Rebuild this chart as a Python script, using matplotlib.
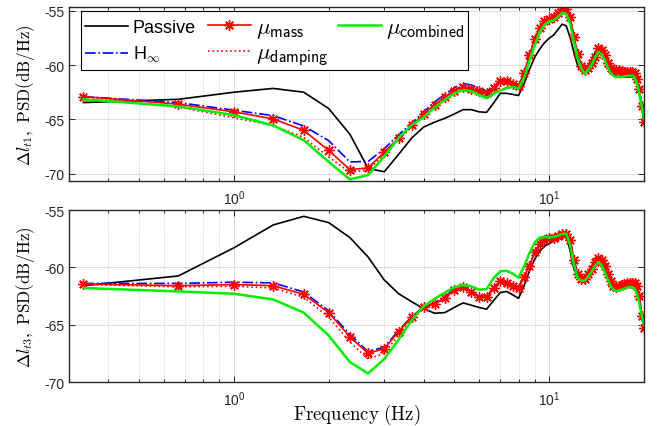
import matplotlib
matplotlib.use('Agg')
import matplotlib.pyplot as plt
from matplotlib.ticker import NullFormatter, FixedLocator, LogLocator
from matplotlib.patches import Rectangle
from matplotlib.legend import Legend
import numpy as np

plt.rcParams['font.family'] = ['Liberation Sans', 'DejaVu Sans']
plt.rcParams['mathtext.fontset'] = 'cm'
plt.rcParams['axes.unicode_minus'] = False

# frequency grid (Hz), 1/3 Hz resolution
freq = np.arange(1, 61) / 3.0

# ---- upper panel: delta l_t1 ----
top_passive = [-63.45, -63.15, -62.5, -62.15, -62.5, -64.0, -66.35, -69.5, -69.8, -68.2,
               -66.7, -65.7, -65.25, -64.9, -64.5, -64.1, -64.1, -64.3, -64.35, -63.5,
               -62.6, -62.6, -62.7, -62.8, -61.7, -60.4, -59.3, -58.55, -57.95, -57.55,
               -57.25, -56.75, -56.25, -56.4, -57.5, -58.9, -60.1, -60.6, -60.5, -60.05,
               -59.5, -58.85, -58.3, -58.45, -59.0, -59.8, -60.45, -60.8, -61.0, -61.1,
               -61.1, -61.1, -61.1, -61.1, -61.05, -61.1, -61.8, -62.7, -63.7, -64.6]
top_hinf = [-62.9, -63.45, -64.15, -64.65, -65.6, -66.95, -68.9, -68.85, -67.7, -66.4,
            -65.35, -64.3, -63.4, -62.7, -62.1, -61.7, -61.85, -62.1, -62.4, -62.0,
            -61.45, -61.4, -61.65, -61.9, -60.65, -59.05, -57.55, -56.6, -56.0, -55.75,
            -55.55, -55.25, -54.9, -54.9, -55.6, -57.45, -59.0, -60.05, -60.5, -60.25,
            -59.85, -59.3, -58.45, -58.65, -59.1, -59.85, -60.3, -60.5, -60.5, -60.5,
            -60.55, -60.6, -60.6, -60.6, -60.65, -60.75, -61.3, -62.2, -63.8, -65.25]
top_mass = [-62.9, -63.6, -64.3, -64.95, -66.0, -67.85, -69.6, -69.45, -68.0, -66.7,
            -65.55, -64.5, -63.65, -62.95, -62.35, -62.05, -62.2, -62.35, -62.55, -62.1,
            -61.5, -61.45, -61.7, -61.95, -60.7, -59.1, -57.6, -56.6, -56.0, -55.75,
            -55.55, -55.25, -54.85, -54.85, -55.6, -57.45, -59.0, -60.05, -60.5, -60.25,
            -59.85, -59.3, -58.4, -58.6, -59.1, -59.85, -60.3, -60.5, -60.5, -60.5,
            -60.55, -60.6, -60.6, -60.6, -60.65, -60.75, -61.3, -62.2, -63.8, -65.25]
top_damping = [-62.95, -63.85, -64.85, -65.55, -66.65, -68.45, -69.85, -69.65, -68.2, -66.85,
               -65.7, -64.6, -63.75, -63.05, -62.45, -62.15, -62.3, -62.45, -62.65, -62.2,
               -61.6, -61.55, -61.8, -62.0, -60.75, -59.15, -57.65, -56.65, -56.05, -55.8,
               -55.6, -55.3, -54.9, -54.9, -55.65, -57.5, -59.05, -60.1, -60.55, -60.3,
               -59.9, -59.35, -58.45, -58.65, -59.15, -59.9, -60.35, -60.55, -60.55, -60.55,
               -60.6, -60.65, -60.65, -60.65, -60.7, -60.8, -61.35, -62.25, -63.85, -65.25]
top_combined = [-63.15, -63.8, -64.6, -65.55, -66.9, -68.9, -70.5, -70.1, -68.4, -66.7,
                -65.5, -64.8, -63.9, -63.2, -62.6, -62.3, -62.4, -62.75, -63.05, -62.65,
                -62.35, -62.1, -62.0, -62.15, -61.2, -59.6, -58.2, -57.0, -56.3, -56.0,
                -55.9, -55.6, -55.2, -55.3, -56.2, -57.9, -59.4, -60.35, -60.8, -60.4,
                -59.95, -59.3, -58.8, -59.0, -59.5, -60.2, -60.7, -61.0, -61.1, -61.1,
                -61.1, -61.05, -61.0, -61.0, -60.95, -61.1, -61.7, -62.6, -63.8, -64.9]

# ---- lower panel: delta l_t3 ----
bot_passive = [-61.6, -60.75, -58.3, -56.3, -55.55, -56.1, -57.4, -59.1, -61.1, -62.3,
               -63.0, -63.6, -64.0, -63.95, -63.5, -63.1, -63.3, -63.5, -63.65, -62.9,
               -62.2, -62.1, -62.4, -62.7, -61.6, -60.3, -59.3, -58.6, -58.15, -57.95,
               -57.7, -57.5, -57.3, -57.15, -58.6, -60.2, -60.85, -61.0, -60.9, -60.4,
               -59.85, -59.4, -59.15, -59.4, -59.95, -60.7, -61.25, -61.6, -61.75, -61.72,
               -61.68, -61.65, -61.6, -61.5, -61.46, -61.55, -61.8, -62.9, -64.2, -65.25]
bot_hinf = [-61.4, -61.4, -61.3, -61.35, -62.15, -63.8, -65.85, -67.35, -66.95, -65.5,
            -64.3, -63.45, -63.1, -62.55, -61.9, -61.7, -62.1, -62.55, -62.5, -61.75,
            -61.15, -61.3, -61.55, -61.75, -60.75, -59.8, -58.65, -57.95, -57.55, -57.4,
            -57.35, -57.2, -57.0, -56.95, -57.55, -59.35, -60.55, -61.0, -61.0, -60.5,
            -60.05, -59.45, -59.1, -59.35, -59.85, -60.55, -61.15, -61.55, -61.7, -61.6,
            -61.5, -61.4, -61.35, -61.3, -61.3, -61.35, -61.55, -62.45, -64.15, -65.3]
bot_mass = [-61.45, -61.6, -61.5, -61.6, -62.35, -63.95, -66.05, -67.5, -67.1, -65.6,
            -64.35, -63.5, -63.2, -62.65, -61.95, -61.75, -62.15, -62.6, -62.55, -61.8,
            -61.2, -61.35, -61.6, -61.8, -60.8, -59.85, -58.7, -58.0, -57.6, -57.45,
            -57.4, -57.25, -57.05, -57.05, -57.6, -59.4, -60.6, -61.05, -61.05, -60.55,
            -60.1, -59.5, -59.15, -59.4, -59.9, -60.6, -61.2, -61.6, -61.75, -61.65,
            -61.55, -61.45, -61.4, -61.35, -61.35, -61.4, -61.6, -62.5, -64.2, -65.3]
bot_damping = [-61.5, -61.7, -61.65, -61.8, -62.6, -64.35, -66.5, -68.0, -67.5, -65.9,
               -64.55, -63.6, -63.3, -62.7, -62.0, -61.8, -62.2, -62.65, -62.6, -61.85,
               -61.25, -61.4, -61.65, -61.85, -60.85, -59.9, -58.75, -58.05, -57.65, -57.5,
               -57.45, -57.3, -57.1, -57.1, -57.65, -59.45, -60.65, -61.1, -61.1, -60.6,
               -60.15, -59.55, -59.2, -59.45, -59.95, -60.65, -61.25, -61.65, -61.8, -61.7,
               -61.6, -61.5, -61.45, -61.4, -61.4, -61.45, -61.65, -62.55, -64.25, -65.3]
bot_combined = [-61.8, -62.1, -62.3, -62.8, -63.95, -65.95, -68.25, -69.25, -68.0, -66.3,
                -64.6, -63.4, -62.75, -62.2, -61.75, -61.55, -61.65, -61.95, -61.9, -60.95,
                -60.35, -60.3, -60.55, -60.9, -59.9, -58.75, -57.85, -57.4, -57.35, -57.4,
                -57.35, -57.25, -57.1, -57.05, -58.1, -59.8, -60.95, -61.17, -61.15, -60.75,
                -60.35, -59.85, -59.55, -59.8, -60.4, -61.05, -61.6, -61.95, -62.05, -62.0,
                -61.95, -61.85, -61.75, -61.7, -61.75, -61.85, -62.3, -63.2, -64.2, -65.05]

frame_col = '#262626'

fig = plt.figure(figsize=(6.62, 4.27), dpi=100)
ax1 = fig.add_axes([0.1042, 0.5738, 0.8686, 0.4068])
ax2 = fig.add_axes([0.1042, 0.1030, 0.8686, 0.4028])


def draw(ax, passive, hinf, mass, damping, combined):
    lines = []
    lines += ax.plot(freq, passive, color='black', lw=1.2, label='Passive')
    lines += ax.plot(freq, hinf, color='#0000ff', lw=1.2, ls='-.', label=r'H$_{\infty}$')
    lines += ax.plot(freq, damping, color='#ff0000', lw=1.2, ls=':',
                     label=r'$\mu_{\mathsf{damping}}$')
    lines += ax.plot(freq, mass, color='#ff0000', lw=1.2, marker=(8, 2, 0), ms=7.5, mew=1.0,
                     label=r'$\mu_{\mathsf{mass}}$')
    lines += ax.plot(freq, combined, color='#00ee00', lw=1.8,
                     label=r'$\mu_{\mathsf{combined}}$')
    ax.set_xscale('log')
    ax.set_xlim(0.3, 20)
    ax.set_yticks([-70, -65, -60, -55])
    ax.xaxis.set_major_locator(FixedLocator([1, 10]))
    ax.xaxis.set_minor_locator(LogLocator(base=10, subs=np.arange(2, 10)))
    ax.xaxis.set_minor_formatter(NullFormatter())
    ax.tick_params(which='both', direction='in', top=True, right=True,
                   colors=frame_col, labelsize=10, width=0.7)
    ax.tick_params(which='major', length=4)
    ax.tick_params(which='minor', length=2)
    ax.tick_params(axis='x', pad=5)
    ax.grid(which='major', color='#dcdcdc', ls='-', lw=0.7)
    ax.grid(which='minor', axis='x', color='#c8c8c8', ls=':', lw=0.7)
    ax.set_axisbelow(True)
    for s in ax.spines.values():
        s.set_color(frame_col)
        s.set_linewidth(1.0)
    return lines


lines = draw(ax1, top_passive, top_hinf, top_mass, top_damping, top_combined)
draw(ax2, bot_passive, bot_hinf, bot_mass, bot_damping, bot_combined)
ax1.set_ylim(-70.65, -54.7)
ax2.set_ylim(-70, -55)

ax1.set_ylabel(r'$\Delta l_{t1},\ \mathrm{PSD(dB/Hz)}$', fontsize=12.3, labelpad=5)
ax2.set_ylabel(r'$\Delta l_{t3},\ \mathrm{PSD(dB/Hz)}$', fontsize=12.3, labelpad=5)
ax2.set_xlabel(r'$\mathrm{Frequency\ (Hz)}$', fontsize=13.5, labelpad=-4)

# legend: 3 columns x 2 rows, one entry per small legend so rows line up
ax1.add_patch(Rectangle((0.0209, 0.639), 0.673, 0.3415, transform=ax1.transAxes,
                        facecolor='white', edgecolor='black', lw=0.8, zorder=4.9))
row_y = [0.881, 0.731]
col_x = [0.0278, 0.2417, 0.4678]
slots = [(0, 0, 0), (1, 0, 1), (3, 1, 0), (2, 1, 1), (4, 2, 0)]  # line idx, col, row
for idx, c, r in slots:
    fs = 16.5 if 'mu' in lines[idx].get_label() else 13
    px = fs * 100 / 72
    lg = Legend(ax1, [lines[idx]], [lines[idx].get_label()], loc='center left',
                bbox_to_anchor=(col_x[c], row_y[r]), borderaxespad=0, borderpad=0,
                frameon=False, fontsize=fs, handlelength=43 / px, handletextpad=5 / px)
    ax1.add_artist(lg)

fig.savefig('out.png', dpi=100)
